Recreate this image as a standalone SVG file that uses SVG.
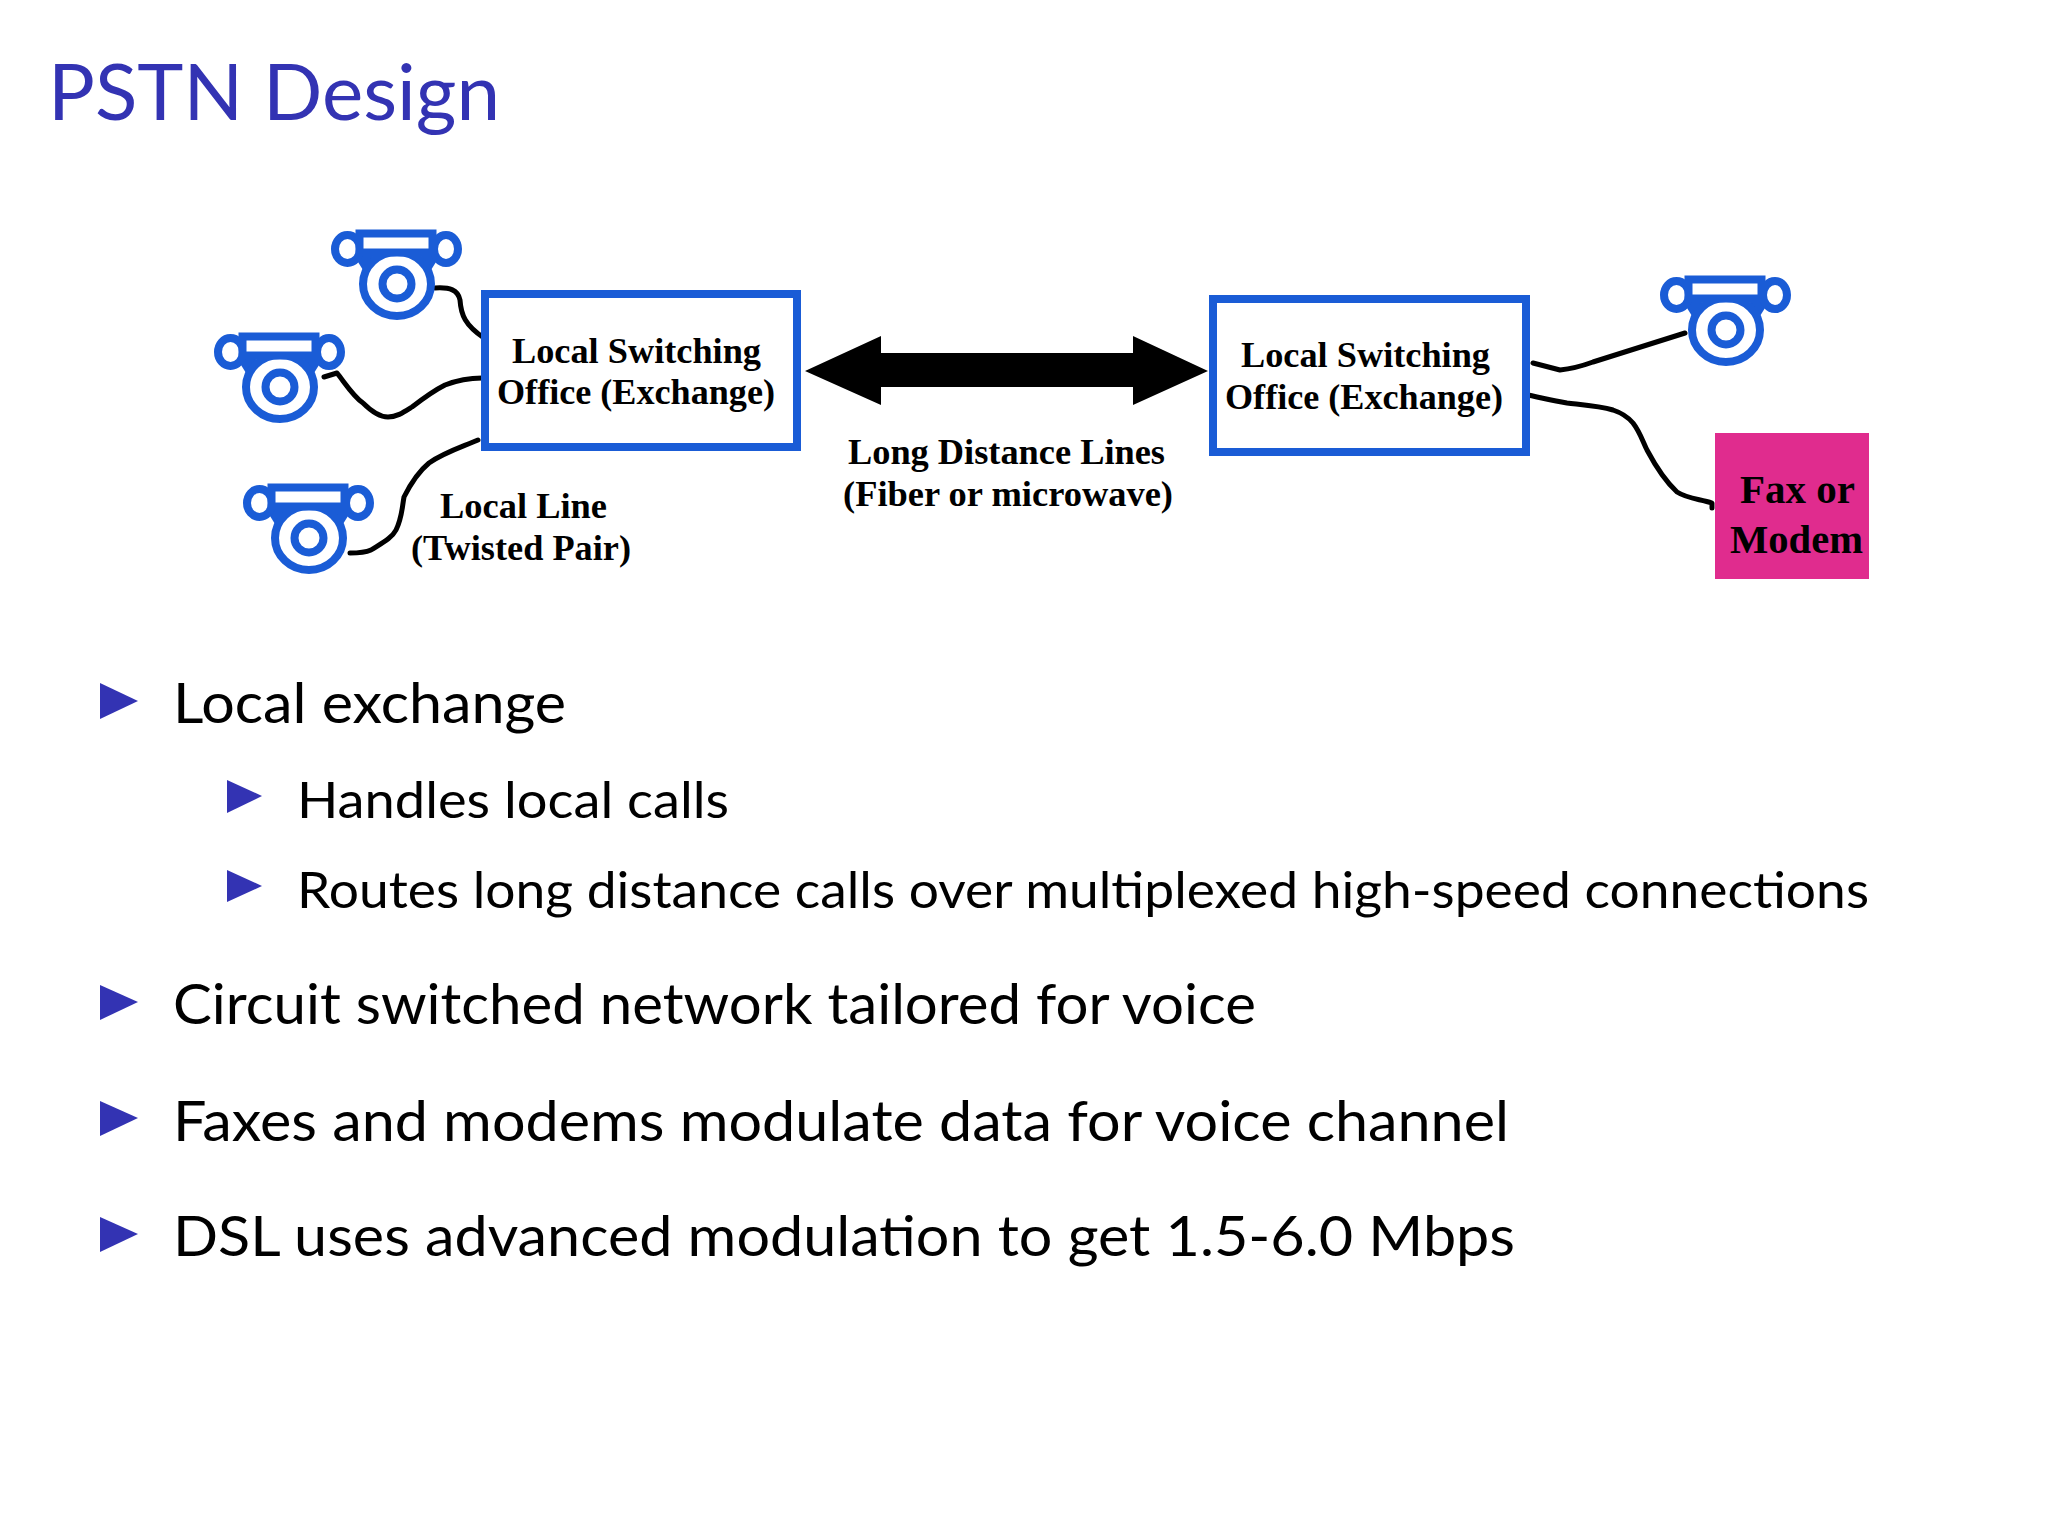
<svg xmlns="http://www.w3.org/2000/svg" width="2048" height="1536" viewBox="0 0 2048 1536">
<style>
.bg{fill:#fff}
text{font-variant-ligatures:none}
.title{font:78px Lato,"Liberation Sans",sans-serif;fill:#3333b3}
.l1{font:57px Lato,"Liberation Sans",sans-serif;fill:#000}
.l2{font:51px Lato,"Liberation Sans",sans-serif;fill:#000}
.bul{fill:#3333b3}
.box{fill:#fff;stroke:#1a5cd6;stroke-width:8}
.lab{font:bold 36px "Liberation Serif","Times New Roman",serif;fill:#000}
.fax{font:bold 40px "Liberation Serif","Times New Roman",serif;fill:#000}
.wire{fill:none;stroke:#000;stroke-width:5;stroke-linecap:round;stroke-linejoin:round}
.ph{fill:#fff;stroke:#1a5cd6;stroke-width:8}
.phs{fill:#1a5cd6}
</style>
<defs>
<g id="phone">
<path class="phs" d="M-44 -30H-22L-34 -14ZM44 -30H22L34 -14Z"/>
<ellipse class="ph" cx="0" cy="0" rx="34" ry="32"/>
<circle class="ph" r="14.5"/>
<ellipse class="ph" cx="-49.5" cy="-35" rx="12.5" ry="14"/>
<ellipse class="ph" cx="49" cy="-35" rx="12" ry="14"/>
<rect class="ph" x="-37.5" y="-50.5" width="73" height="19"/>
</g>
</defs>
<rect class="bg" width="2048" height="1536"/>
<text class="title" x="48" y="120" textLength="452" lengthAdjust="spacingAndGlyphs">PSTN Design</text>
<g id="connectors">
<path class="wire" d="M435 288C450 287 458 290 460 300C461 315 465 325 484 338"/>
<path class="wire" d="M324 377L337 373C345 383 353 396 363 403C372 412 380 417 388 417C397 417 404 412 412 407C425 397 435 390 445 385C458 380 470 378 482 378"/>
<path class="wire" d="M350 553C358 553 364 553 371 550C382 543 392 538 396 530C402 518 402 508 404 497C410 485 418 472 429 463C445 452 462 447 478 440"/>
<path class="wire" d="M1533 363L1560 370C1570 369 1582 366 1593 362L1685 333"/>
<path class="wire" d="M1528 395C1542 398 1555 401 1567 403C1585 405 1600 406 1613 410C1622 413 1628 417 1633 423C1640 432 1643 442 1647 450C1655 465 1664 480 1677 492C1688 499 1700 499 1712 503L1712 508"/>
<path id="long-distance" fill="#000" d="M805 371L881 336V353H1133V336L1208 371L1133 405V387H881V405Z"/>
</g>
<g id="phone1"><use href="#phone" x="397" y="284"/></g>
<g id="phone2"><use href="#phone" x="280" y="387"/></g>
<g id="phone3"><use href="#phone" x="309" y="538"/></g>
<g id="phone4"><use href="#phone" x="1726" y="330"/></g>
<g id="office1">
<rect class="box" x="485" y="294" width="312" height="153"/>
<text class="lab" x="512" y="363" textLength="249" lengthAdjust="spacingAndGlyphs">Local Switching</text>
<text class="lab" x="497" y="404" textLength="278" lengthAdjust="spacingAndGlyphs">Office (Exchange)</text>
</g>
<g id="office2">
<rect class="box" x="1213" y="299" width="313" height="153"/>
<text class="lab" x="1241" y="367" textLength="249" lengthAdjust="spacingAndGlyphs">Local Switching</text>
<text class="lab" x="1225" y="409" textLength="278" lengthAdjust="spacingAndGlyphs">Office (Exchange)</text>
</g>
<g id="fax">
<rect x="1715" y="433" width="154" height="146" fill="#e02c8e" stroke="none"/>
<text class="fax" x="1740" y="503" textLength="115" lengthAdjust="spacingAndGlyphs">Fax or</text>
<text class="fax" x="1730" y="553" textLength="133" lengthAdjust="spacingAndGlyphs">Modem</text>
</g>
<g id="label-long">
<text class="lab" x="848" y="464" textLength="317" lengthAdjust="spacingAndGlyphs">Long Distance Lines</text>
<text class="lab" x="843" y="506" textLength="330" lengthAdjust="spacingAndGlyphs">(Fiber or microwave)</text>
</g>
<g id="label-local">
<text class="lab" x="440" y="518" textLength="167" lengthAdjust="spacingAndGlyphs">Local Line</text>
<text class="lab" x="411" y="560" textLength="220" lengthAdjust="spacingAndGlyphs">(Twisted Pair)</text>
</g>
<g id="bullets">
<path class="bul" d="M100 683L138 701L100 719Z"/>
<text class="l1" x="173" y="723" textLength="393" lengthAdjust="spacingAndGlyphs">Local exchange</text>
<path class="bul" d="M227 780L262 796L227 813Z"/>
<text class="l2" x="297" y="818" textLength="432" lengthAdjust="spacingAndGlyphs">Handles local calls</text>
<path class="bul" d="M227 870L262 886L227 902Z"/>
<text class="l2" x="297" y="908" textLength="1572" lengthAdjust="spacingAndGlyphs">Routes long distance calls over multiplexed high-speed connections</text>
<path class="bul" d="M100 985L138 1002L100 1020Z"/>
<text class="l1" x="173" y="1024" textLength="1083" lengthAdjust="spacingAndGlyphs">Circuit switched network tailored for voice</text>
<path class="bul" d="M100 1101L138 1118L100 1136Z"/>
<text class="l1" x="173" y="1141" textLength="1336" lengthAdjust="spacingAndGlyphs">Faxes and modems modulate data for voice channel</text>
<path class="bul" d="M100 1217L138 1234L100 1252Z"/>
<text class="l1" x="173" y="1256" textLength="1342" lengthAdjust="spacingAndGlyphs">DSL uses advanced modulation to get 1.5-6.0 Mbps</text>
</g>
</svg>
